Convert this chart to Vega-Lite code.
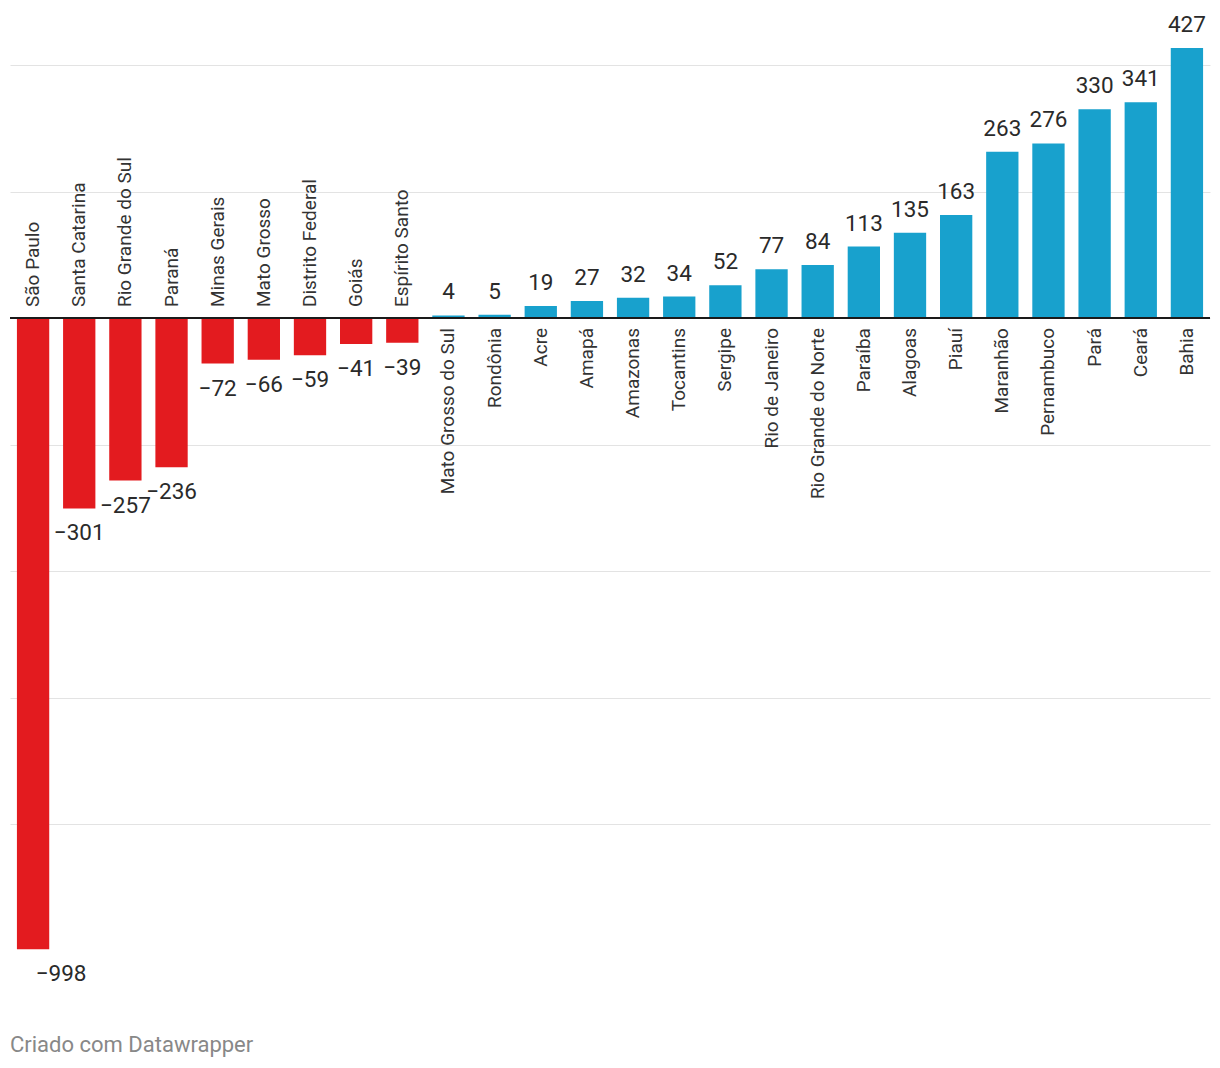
{
  "$schema": "https://vega.github.io/schema/vega-lite/v6.json",
  "width": 1200,
  "height": 1000,
  "autosize": {"type": "none"},
  "padding": {"left": 10, "top": 0, "right": 10, "bottom": 68},
  "background": "white",
  "config": {"view": {"stroke": null}, "font": "Roboto"},
  "title": {
    "text": "Criado com Datawrapper",
    "orient": "bottom",
    "anchor": "start",
    "frame": "group",
    "fontSize": 22,
    "fontWeight": "normal",
    "color": "#888888",
    "font": "Roboto",
    "offset": 35
  },
  "data": {
    "values": [
      {"name": "São Paulo", "value": -998},
      {"name": "Santa Catarina", "value": -301},
      {"name": "Rio Grande do Sul", "value": -257},
      {"name": "Paraná", "value": -236},
      {"name": "Minas Gerais", "value": -72},
      {"name": "Mato Grosso", "value": -66},
      {"name": "Distrito Federal", "value": -59},
      {"name": "Goiás", "value": -41},
      {"name": "Espírito Santo", "value": -39},
      {"name": "Mato Grosso do Sul", "value": 4},
      {"name": "Rondônia", "value": 5},
      {"name": "Acre", "value": 19},
      {"name": "Amapá", "value": 27},
      {"name": "Amazonas", "value": 32},
      {"name": "Tocantins", "value": 34},
      {"name": "Sergipe", "value": 52},
      {"name": "Rio de Janeiro", "value": 77},
      {"name": "Rio Grande do Norte", "value": 84},
      {"name": "Paraíba", "value": 113},
      {"name": "Alagoas", "value": 135},
      {"name": "Piauí", "value": 163},
      {"name": "Maranhão", "value": 263},
      {"name": "Pernambuco", "value": 276},
      {"name": "Pará", "value": 330},
      {"name": "Ceará", "value": 341},
      {"name": "Bahia", "value": 427}
    ]
  },
  "encoding": {
    "x": {
      "field": "name",
      "type": "nominal",
      "sort": {"field": "value", "order": "ascending"},
      "scale": {"paddingInner": 0.3, "paddingOuter": 0.15},
      "axis": null
    },
    "y": {
      "field": "value",
      "type": "quantitative",
      "scale": {"domain": [-1078.2, 502.8], "nice": false, "zero": false},
      "axis": {
        "values": [-800, -600, -400, -200, 0, 200, 400],
        "labels": false,
        "ticks": false,
        "domain": false,
        "title": null,
        "grid": true,
        "gridColor": "#e3e3e3",
        "gridWidth": 1
      }
    }
  },
  "layer": [
    {
      "mark": {"type": "bar"},
      "encoding": {
        "y2": {"datum": 0},
        "color": {
          "condition": {"test": "datum.value < 0", "value": "#e31b1f"},
          "value": "#18a1cd"
        }
      }
    },
    {
      "mark": {"type": "rule", "color": "#1a1a1a", "strokeWidth": 2},
      "encoding": {"y": {"datum": 0}, "x": null}
    },
    {
      "transform": [{"filter": "datum.value >= 0"}],
      "mark": {"type": "text", "fontSize": 22.5, "color": "#2a2a2a", "baseline": "alphabetic", "dy": -16},
      "encoding": {"text": {"field": "value", "type": "quantitative", "format": "d"}}
    },
    {
      "transform": [{"filter": "datum.value < 0 && datum.value > -500"}],
      "mark": {"type": "text", "fontSize": 22.5, "color": "#2a2a2a", "baseline": "alphabetic", "dy": 32},
      "encoding": {"text": {"field": "value", "type": "quantitative", "format": "d"}}
    },
    {
      "transform": [{"filter": "datum.value <= -500"}],
      "mark": {"type": "text", "fontSize": 22.5, "color": "#2a2a2a", "baseline": "alphabetic", "dy": 32, "dx": 28},
      "encoding": {"text": {"field": "value", "type": "quantitative", "format": "d"}}
    },
    {
      "transform": [{"filter": "datum.value < 0"}],
      "mark": {"type": "text", "fontSize": 19, "color": "#333333", "angle": 270, "align": "left", "baseline": "middle", "dx": 11},
      "encoding": {"y": {"datum": 0}, "text": {"field": "name", "type": "nominal"}}
    },
    {
      "transform": [{"filter": "datum.value >= 0"}],
      "mark": {"type": "text", "fontSize": 19, "color": "#333333", "angle": 270, "align": "right", "baseline": "middle", "dx": -10},
      "encoding": {"y": {"datum": 0}, "text": {"field": "name", "type": "nominal"}}
    }
  ]
}
